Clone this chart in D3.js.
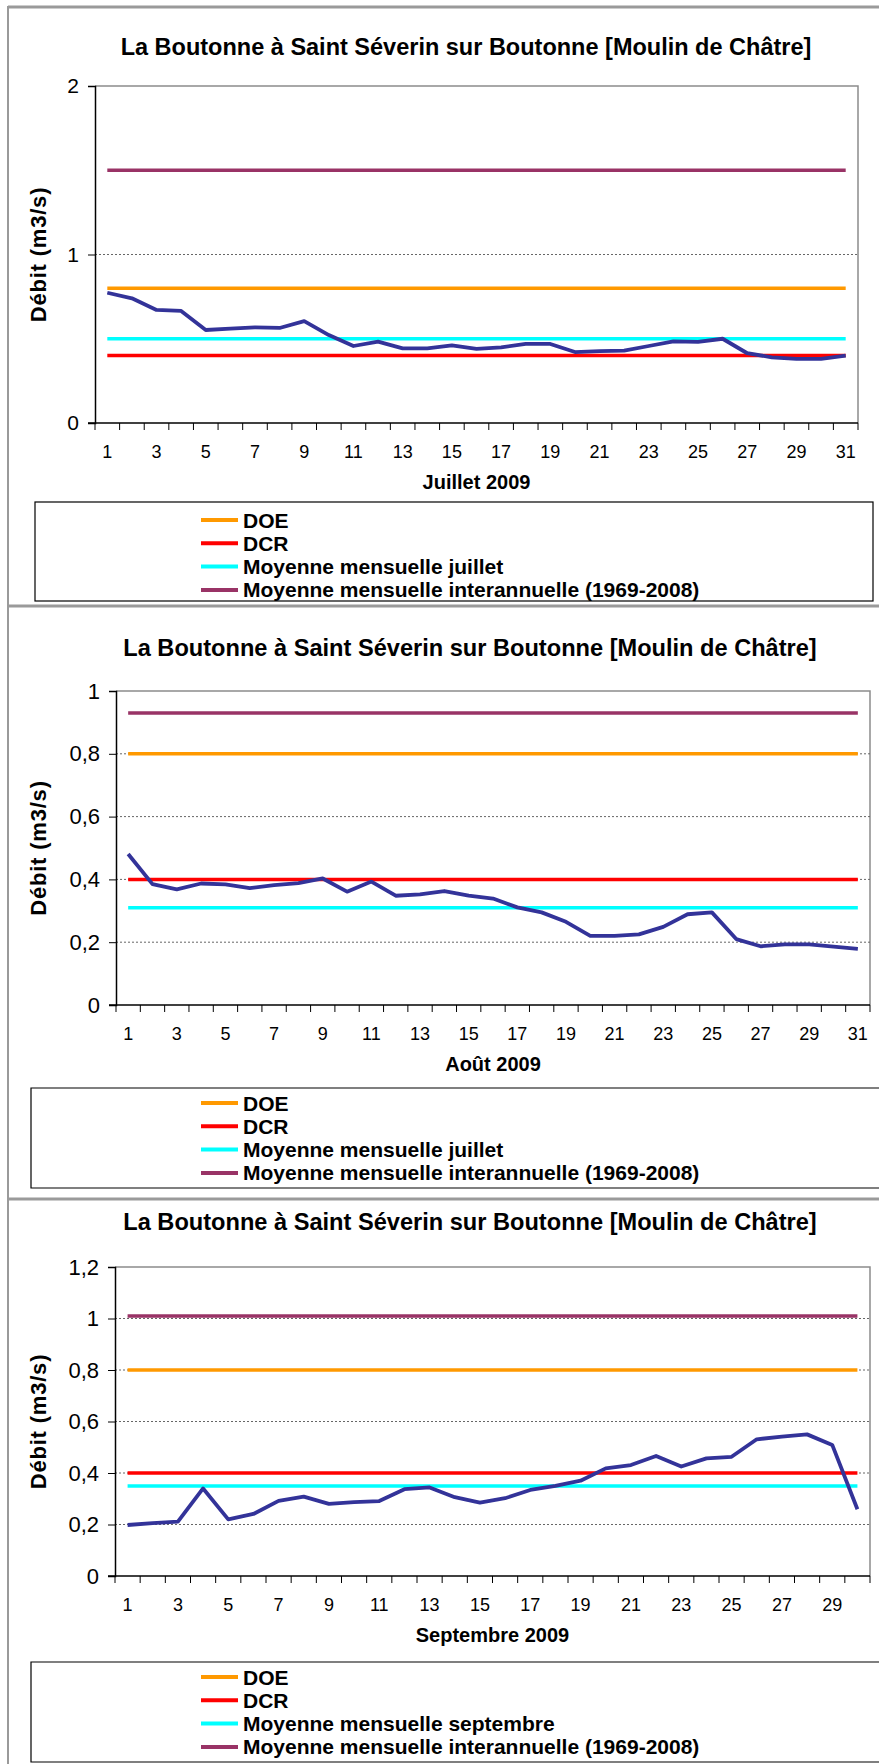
<!DOCTYPE html>
<html>
<head>
<meta charset="utf-8">
<script src="https://cdn.jsdelivr.net/npm/d3@7/dist/d3.min.js"></script>
<style>
  html, body { margin: 0; padding: 0; background: #fff; }
  svg text { font-family: "Liberation Sans", Arial, sans-serif; fill: #000; }
</style>
</head>
<body>
<svg id="chart" width="879" height="1764"></svg>
<script>
// ---------- DATA ----------
const chartTitle = "La Boutonne à Saint Séverin sur Boutonne [Moulin de Châtre]";
const yAxisTitle = "Débit (m3/s)";

const daysJuillet = [1,2,3,4,5,6,7,8,9,10,11,12,13,14,15,16,17,18,19,20,21,22,23,24,25,26,27,28,29,30,31];
const daysAout    = [1,2,3,4,5,6,7,8,9,10,11,12,13,14,15,16,17,18,19,20,21,22,23,24,25,26,27,28,29,30,31];
const daysSept    = [1,2,3,4,5,6,7,8,9,10,11,12,13,14,15,16,17,18,19,20,21,22,23,24,25,26,27,28,29,30];

const debitJuillet = [0.773,0.740,0.671,0.665,0.552,0.560,0.568,0.564,0.605,0.522,0.457,0.483,0.443,0.443,0.461,0.440,
                      0.449,0.469,0.469,0.421,0.427,0.429,0.457,0.485,0.481,0.500,0.414,0.390,0.380,0.380,0.400];
const debitAout    = [0.481,0.385,0.368,0.387,0.384,0.372,0.382,0.388,0.403,0.361,0.393,0.348,0.352,0.363,0.348,0.339,
                      0.311,0.295,0.265,0.220,0.220,0.225,0.249,0.289,0.295,0.210,0.187,0.193,0.193,0.186,0.179];
const debitSept    = [0.198,0.205,0.211,0.340,0.220,0.241,0.292,0.308,0.280,0.287,0.291,0.337,0.344,0.306,0.285,0.302,
                      0.334,0.350,0.370,0.418,0.431,0.466,0.425,0.457,0.463,0.531,0.541,0.550,0.509,0.259];

const monthLabels   = ["Juillet 2009", "Août 2009", "Septembre 2009"];
const valuesDOE     = [0.8, 0.8, 0.8];
const valuesDCR     = [0.4, 0.4, 0.4];
const valuesMoyMens = [0.5, 0.31, 0.35];
const valuesMoyInter= [1.5, 0.93, 1.01];

const legendNames = [
  ["DOE", "DCR", "Moyenne mensuelle juillet", "Moyenne mensuelle interannuelle (1969-2008)"],
  ["DOE", "DCR", "Moyenne mensuelle juillet", "Moyenne mensuelle interannuelle (1969-2008)"],
  ["DOE", "DCR", "Moyenne mensuelle septembre", "Moyenne mensuelle interannuelle (1969-2008)"]
];

const yTicksJuillet = [0, 1, 2];
const yTicksAout    = [0, 0.2, 0.4, 0.6, 0.8, 1];
const yTicksSept    = [0, 0.2, 0.4, 0.6, 0.8, 1, 1.2];

// ---------- STYLE / LAYOUT ----------
const colors = { flow: "#333399", doe: "#FF9900", dcr: "#FF0000", moy: "#00FFFF", inter: "#993366" };

const layouts = [
  { l: 95,  r: 858, t: 86,   b: 423,  titleY: 47,   titleX: 466, titleSize: 23.5, legTop: 502,  legBot: 601,  legL: 35, legR: 873, legRow0: 520,  closeRight: true },
  { l: 116, r: 870, t: 691,  b: 1005, titleY: 648,  titleX: 470, titleSize: 23.6, legTop: 1088, legBot: 1188, legL: 31, legR: 890, legRow0: 1103, closeRight: false },
  { l: 115, r: 870, t: 1267, b: 1576, titleY: 1222, titleX: 470, titleSize: 23.6, legTop: 1662, legBot: 1762, legL: 31, legR: 890, legRow0: 1677, closeRight: false }
];

const panelData = [
  { days: daysJuillet, flow: debitJuillet, yTicks: yTicksJuillet },
  { days: daysAout,    flow: debitAout,    yTicks: yTicksAout },
  { days: daysSept,    flow: debitSept,    yTicks: yTicksSept }
];

const svg = d3.select("#chart");

// outer frame / separators
const frame = svg.append("g").attr("stroke", "#9a9a9a").attr("fill", "none");
frame.append("line").attr("x1", 8).attr("x2", 8).attr("y1", 6).attr("y2", 1764).attr("stroke-width", 2);
[7, 606, 1199].forEach(yy => {
  frame.append("line").attr("x1", 8).attr("x2", 879).attr("y1", yy).attr("y2", yy).attr("stroke-width", 3);
});

const fmt = d => String(d).replace(".", ",");

panelData.forEach((pd, i) => {
  const L = layouts[i];
  const g = svg.append("g");

  const x = d3.scaleBand().domain(pd.days).range([L.l, L.r]).padding(0);
  const cx = d => x(d) + x.bandwidth() / 2;
  const yMax = pd.yTicks[pd.yTicks.length - 1];
  const y = d3.scaleLinear().domain([0, yMax]).range([L.b, L.t]);

  // title
  g.append("text").attr("x", L.titleX).attr("y", L.titleY + 8)
    .attr("text-anchor", "middle").attr("font-size", L.titleSize).attr("font-weight", "bold")
    .text(chartTitle);

  // plot border (top/right gray)
  g.append("path")
    .attr("d", `M${L.l},${L.t}H${L.r}V${L.b}`)
    .attr("fill", "none").attr("stroke", "#8c8c8c").attr("stroke-width", 1.5);

  // gridlines
  g.append("g").selectAll("line")
    .data(pd.yTicks.filter(v => v > 0 && v < yMax))
    .join("line")
    .attr("x1", L.l).attr("x2", L.r)
    .attr("y1", d => y(d)).attr("y2", d => y(d))
    .attr("stroke", "#666").attr("stroke-width", 1).attr("stroke-dasharray", "2,2");

  // reference lines
  const firstDay = pd.days[0], lastDay = pd.days[pd.days.length - 1];
  const refs = [
    { v: valuesMoyInter[i], c: colors.inter },
    { v: valuesDOE[i],      c: colors.doe },
    { v: valuesMoyMens[i],  c: colors.moy },
    { v: valuesDCR[i],      c: colors.dcr }
  ];
  g.append("g").selectAll("line").data(refs).join("line")
    .attr("x1", cx(firstDay)).attr("x2", cx(lastDay))
    .attr("y1", d => y(d.v)).attr("y2", d => y(d.v))
    .attr("stroke", d => d.c).attr("stroke-width", 3.5);

  // flow line
  const line = d3.line().x((d, k) => cx(pd.days[k])).y(d => y(d));
  g.append("path").datum(pd.flow)
    .attr("d", line)
    .attr("fill", "none").attr("stroke", colors.flow).attr("stroke-width", 3.8)
    .attr("stroke-linejoin", "round");

  // y axis
  const yAxis = d3.axisLeft(y).tickValues(pd.yTicks).tickFormat(fmt).tickSize(7).tickPadding(9);
  const ya = g.append("g").attr("transform", `translate(${L.l},0)`).call(yAxis);
  ya.select(".domain").attr("stroke", "#000").attr("stroke-width", 1.5);
  ya.selectAll(".tick line").attr("stroke", "#000");
  ya.selectAll("text").attr("font-size", i === 0 ? 21 : 22).style("font-family", '"Liberation Sans", Arial, sans-serif');

  // x axis line + boundary ticks
  const xa = g.append("g");
  xa.append("line").attr("x1", L.l - 7).attr("x2", L.r).attr("y1", L.b).attr("y2", L.b)
    .attr("stroke", "#000").attr("stroke-width", 1.5);
  const bounds = pd.days.map(d => x(d)).concat([L.r]);
  xa.selectAll("line.tk").data(bounds).join("line").attr("class", "tk")
    .attr("x1", d => d).attr("x2", d => d).attr("y1", L.b).attr("y2", L.b + 7)
    .attr("stroke", "#000").attr("stroke-width", 1);

  const xAxis = d3.axisBottom(x).tickValues(pd.days.filter(d => d % 2 === 1)).tickSize(0).tickPadding(22);
  const xg = g.append("g").attr("transform", `translate(0,${L.b})`).call(xAxis);
  xg.select(".domain").remove();
  xg.selectAll("text").attr("font-size", 18).style("font-family", '"Liberation Sans", Arial, sans-serif');

  // x axis title
  g.append("text").attr("x", (L.l + L.r) / 2).attr("y", L.b + 66)
    .attr("text-anchor", "middle").attr("font-size", 20).attr("font-weight", "bold")
    .text(monthLabels[i]);

  // y axis title
  g.append("text")
    .attr("transform", `translate(46,${(L.t + L.b) / 2}) rotate(-90)`)
    .attr("text-anchor", "middle").attr("font-size", 22).attr("font-weight", "bold")
    .attr("letter-spacing", 0.8)
    .text(yAxisTitle);

  // legend
  const lg = g.append("g");
  if (L.closeRight) {
    lg.append("rect").attr("x", L.legL).attr("y", L.legTop)
      .attr("width", L.legR - L.legL).attr("height", L.legBot - L.legTop)
      .attr("fill", "#fff").attr("stroke", "#000").attr("stroke-width", 1.2);
  } else {
    lg.append("path")
      .attr("d", `M${L.legR},${L.legTop}H${L.legL}V${L.legBot}H${L.legR}`)
      .attr("fill", "#fff").attr("stroke", "#000").attr("stroke-width", 1.2);
  }
  const legColors = [colors.doe, colors.dcr, colors.moy, colors.inter];
  legendNames[i].forEach((name, k) => {
    const ry = L.legRow0 + k * 23.3;
    lg.append("line").attr("x1", 201).attr("x2", 238).attr("y1", ry).attr("y2", ry)
      .attr("stroke", legColors[k]).attr("stroke-width", 4);
    lg.append("text").attr("x", 243).attr("y", ry + 7.5)
      .attr("font-size", 21).attr("font-weight", "bold").text(name);
  });
});
</script>
</body>
</html>
